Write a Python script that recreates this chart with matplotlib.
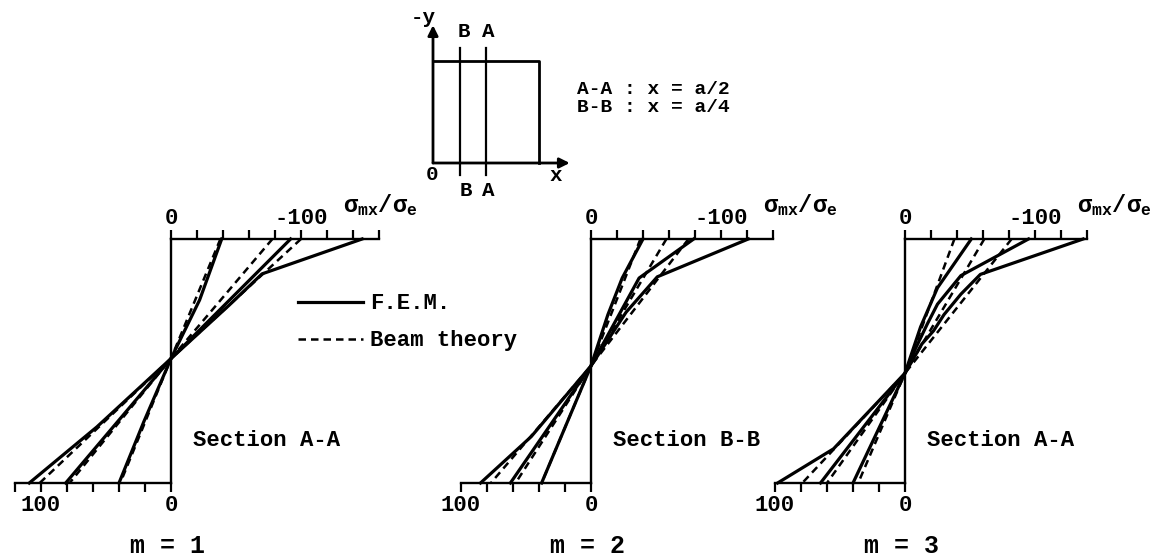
import numpy as np
import matplotlib
matplotlib.use('Agg')
import matplotlib.pyplot as plt

plt.rcParams['font.family'] = ['Liberation Mono', 'DejaVu Sans Mono']
plt.rcParams['font.weight'] = 'bold'
plt.rcParams['font.size'] = 16
plt.rcParams['mathtext.default'] = 'regular'

#
# Bending stress sigma_mx/sigma_e over the depth of the plate
# depth: 0 = top edge, 1 = bottom edge (negative = compression)
#

# m = 1, section A-A
m1_fem_depth = [[0, 0.25, 0.49, 0.75, 1.0],
                [0, 0.49, 1.0],
                [0, 0.143, 0.27, 0.49, 0.77, 1.0]]
m1_fem_stress = [[-39, -22, 0, 21, 40],
                 [-92, 0, 81],
                 [-147, -70, -45, 0, 57, 109]]
m1_beam_depth = [[0, 0.49, 1.0], [0, 0.49, 1.0], [0, 0.49, 1.0]]
m1_beam_stress = [[-38, 0, 39], [-78, 0, 78], [-100, 0, 101]]

# m = 2, section B-B
m2_fem_depth = [[0, 0.16, 0.31, 0.52, 1.0],
                [0, 0.16, 0.52, 1.0],
                [0, 0.155, 0.30, 0.52, 0.81, 1.0]]
m2_fem_stress = [[-40, -24, -13, 0, 38],
                 [-79, -37, 0, 62],
                 [-121, -51, -27, 0, 46, 85]]
m2_beam_depth = [[0, 0.52, 1.0], [0, 0.52, 1.0], [0, 0.52, 1.0]]
m2_beam_stress = [[-38, 0, 38], [-58, 0, 58], [-75, 0, 77]]

# m = 3, section A-A
m3_fem_depth = [[0, 0.20, 0.36, 0.55, 1.0],
                [0, 0.15, 0.267, 0.35, 0.45, 0.55, 1.0],
                [0, 0.145, 0.226, 0.31, 0.376, 0.43, 0.495, 0.55, 0.86, 1.0]]
m3_fem_stress = [[-51, -25, -12, 0, 40],
                 [-95, -43, -25, -17, -8, 0, 65],
                 [-137, -58, -43, -30, -22, -13, -6, 0, 55, 98]]
m3_beam_depth = [[0, 0.55, 1.0], [0, 0.55, 1.0], [0, 0.55, 1.0]]
m3_beam_stress = [[-38, 0, 36], [-61, 0, 60], [-82, 0, 79]]

W, H = 1164, 560
PX = 1.3            # pixels per stress unit
TOP, BOT = 239, 483 # pixel rows of the top and bottom stress axes

fig = plt.figure(figsize=(W / 100, H / 100), dpi=100)


def panel(zero, top_max, bot_max, fem_d, fem_s, beam_d, beam_s, section, m):
    ax = fig.add_axes([(zero - 125 * PX) / W, (H - BOT) / H,
                       290 * PX / W, (BOT - TOP) / H])
    ax.set_xlim(125, -165)
    ax.set_ylim(1, 0)
    ax.patch.set_visible(False)

    fem = beam = None
    for d, s in zip(fem_d, fem_s):
        fem, = ax.plot(s, d, color='k', lw=2.3, clip_on=False)
    for d, s in zip(beam_d, beam_s):
        beam, = ax.plot(s, d, color='k', lw=1.8, ls=(0, (3, 2)), clip_on=False)

    # frame: zero line, tension axis below, compression axis on top
    ax.spines['right'].set_visible(False)
    ax.spines['top'].set_visible(False)
    ax.spines['left'].set_position(('data', 0))
    ax.spines['bottom'].set_bounds(0, bot_max)
    for sp in ('left', 'bottom'):
        ax.spines[sp].set_linewidth(1.7)
        ax.spines[sp].set_capstyle('projecting')
    ax.set_yticks([])
    ticks = np.arange(0, bot_max + 1, 20)
    ax.set_xticks(ticks)
    ax.set_xticklabels([str(t) if t in (0, 100) else '' for t in ticks])
    ax.tick_params(axis='x', direction='out', length=6.5, width=1.6, pad=2)

    sec = ax.secondary_xaxis('top')
    sec.spines['top'].set_bounds(-top_max, 0)
    sec.spines['top'].set_linewidth(1.7)
    sec.spines['top'].set_capstyle('projecting')
    ticks = np.arange(-top_max, 1, 20)
    sec.set_xticks(ticks)
    sec.set_xticklabels(['-100' if t == -100 else '0' if t == 0 else '' for t in ticks])
    sec.tick_params(axis='x', direction='out', length=6.5, width=1.6, pad=1)

    ax.text(-132, -0.14, r'$\sigma_{mx}/\sigma_e$', ha='left', va='center', fontsize=17)
    ax.text(-17, 0.824, section, ha='left', va='center')
    ax.text(3, 1.258, 'm = %d' % m, ha='center', va='center', fontsize=18)
    return ax, fem, beam


ax1, fem, beam = panel(171, 160, 120, m1_fem_depth, m1_fem_stress,
                       m1_beam_depth, m1_beam_stress, 'Section A-A', 1)
panel(591, 140, 100, m2_fem_depth, m2_fem_stress,
      m2_beam_depth, m2_beam_stress, 'Section B-B', 2)
panel(905, 140, 100, m3_fem_depth, m3_fem_stress,
      m3_beam_depth, m3_beam_stress, 'Section A-A', 3)

ax1.legend([fem, beam], ['F.E.M.', 'Beam theory'], loc='upper left',
           bbox_to_anchor=(0.768, 0.777), frameon=False, handlelength=2.93,
           handletextpad=0.3, labelspacing=0.72, borderpad=0, borderaxespad=0)

#
# Sketch of the plate with the two sections
#
S = 106   # pixels per plate width a
ax_in = fig.add_axes([400 / W, (H - 200) / H, 340 / W, 195 / H])
ax_in.set_xlim(-33 / S, 307 / S)
ax_in.set_ylim(-37 / S, 158 / S)
ax_in.axis('off')

a, b = 1.0, 0.96
ax_in.plot([0, a, a], [b, b, 0], color='k', lw=2.0)
for xs in (a / 4, a / 2):
    ax_in.plot([xs, xs], [-0.113, 1.085], color='k', lw=1.6)
arrow = dict(arrowstyle='-|>', color='k', lw=2.0, mutation_scale=15,
             shrinkA=0, shrinkB=0)
ax_in.annotate('', xy=(0, 1.30), xytext=(0, 0), arrowprops=arrow)
ax_in.annotate('', xy=(1.29, 0), xytext=(0, 0), arrowprops=arrow)

ax_in.text(-0.09, 1.377, '-y', ha='center', va='center', fontsize=15)
ax_in.text(0.29, 1.236, 'B', ha='center', va='center', fontsize=15)
ax_in.text(0.52, 1.236, 'A', ha='center', va='center', fontsize=15)
ax_in.text(0.31, -0.264, 'B', ha='center', va='center', fontsize=15)
ax_in.text(0.52, -0.264, 'A', ha='center', va='center', fontsize=15)
ax_in.text(-0.01, -0.11, '0', ha='center', va='center', fontsize=15)
ax_in.text(1.16, -0.12, 'x', ha='center', va='center', fontsize=15)
ax_in.text(1.358, 0.689, 'A-A : x = a/2', ha='left', va='center', fontsize=14)
ax_in.text(1.358, 0.519, 'B-B : x = a/4', ha='left', va='center', fontsize=14)

fig.savefig('out.png', dpi=100)
